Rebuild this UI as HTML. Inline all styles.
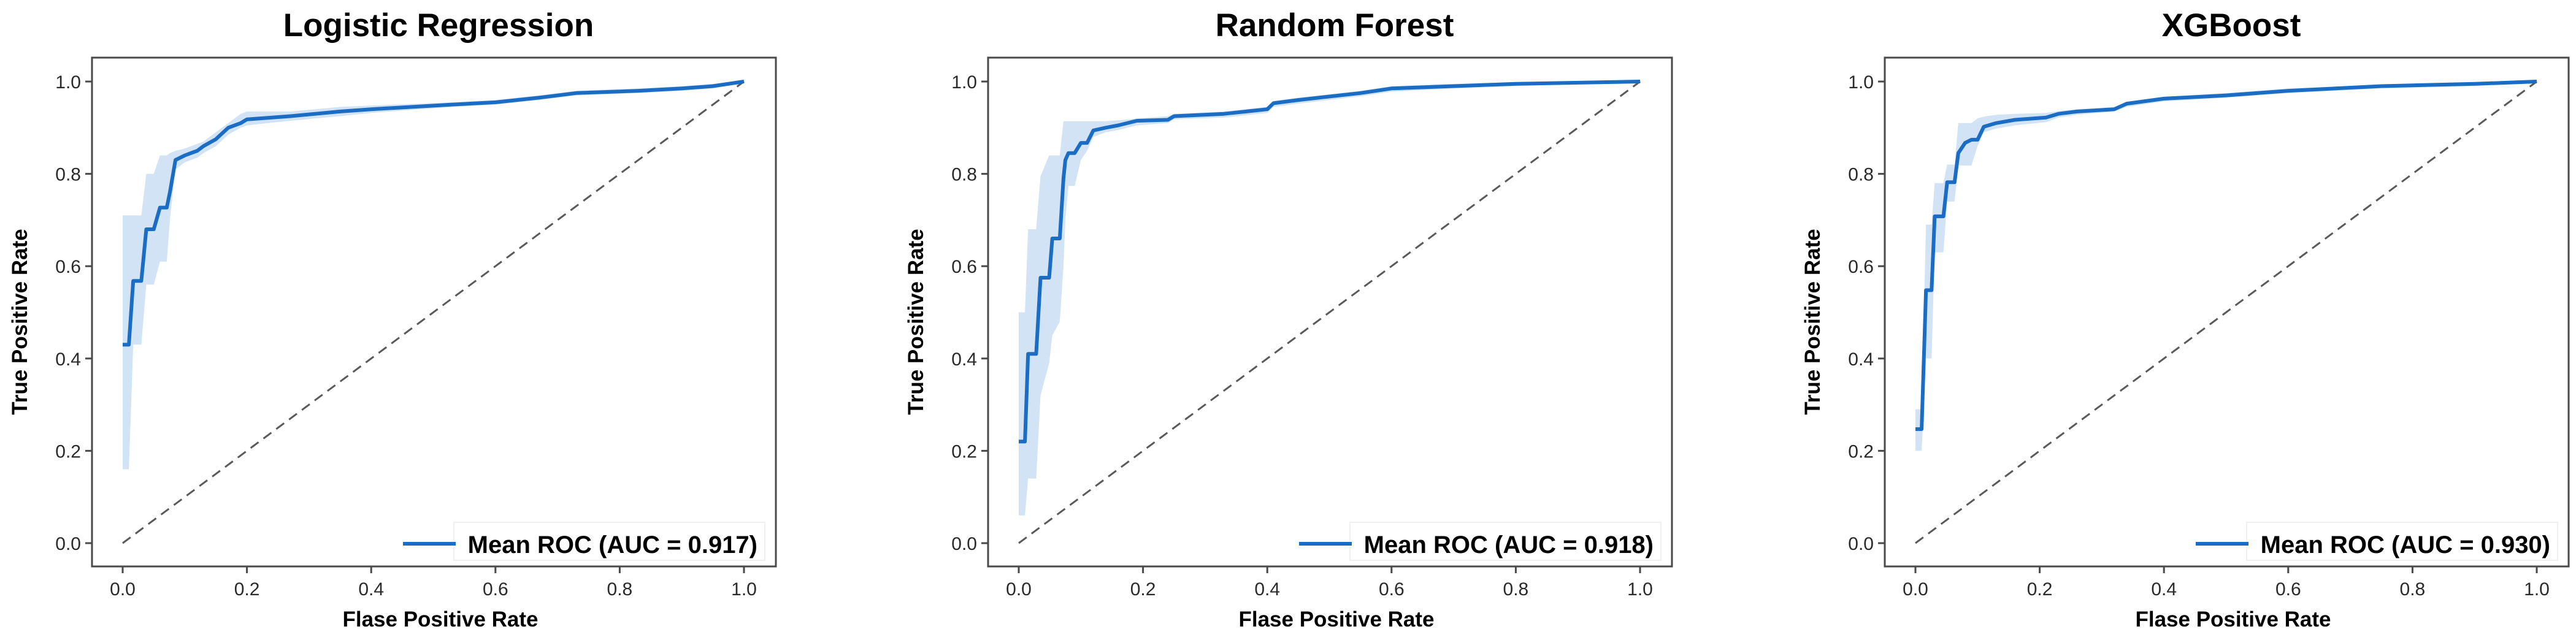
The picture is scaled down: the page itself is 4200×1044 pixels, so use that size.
<!DOCTYPE html>
<html><head><meta charset="utf-8"><style>
html,body{margin:0;padding:0;background:#fff;}
svg{display:block;font-family:"Liberation Sans",Arial,sans-serif;}
</style></head>
<body>
<svg id="fig" width="4200" height="1044" viewBox="0 0 4200 1044" xmlns="http://www.w3.org/2000/svg"></svg>
<script>
// ---- data ----
const titles = ["Logistic Regression", "Random Forest", "XGBoost"];
const aucLabels = ["Mean ROC (AUC = 0.917)", "Mean ROC (AUC = 0.918)", "Mean ROC (AUC = 0.930)"];
const tickValues = [0.0, 0.2, 0.4, 0.6, 0.8, 1.0];
const tickLabels = ["0.0", "0.2", "0.4", "0.6", "0.8", "1.0"];

const lrFpr = [0,0.01,0.017,0.03,0.038,0.05,0.06,0.071,0.076,0.085,0.1,0.11,0.12,0.13,0.15,0.17,0.19,0.2,0.27,0.35,0.4,0.53,0.6,0.67,0.73,0.83,0.9,0.95,1.0];
const lrTpr = [0.43,0.43,0.568,0.568,0.68,0.68,0.727,0.727,0.76,0.83,0.84,0.845,0.85,0.86,0.875,0.90,0.91,0.918,0.925,0.935,0.94,0.95,0.955,0.965,0.975,0.98,0.985,0.99,1.0];
const lrUpper = [0.71,0.71,0.71,0.71,0.80,0.80,0.84,0.84,0.845,0.85,0.855,0.86,0.865,0.87,0.89,0.91,0.93,0.935,0.935,0.945,0.948,0.955,0.96,0.97,0.98,0.985,0.99,0.995,1.0];
const lrLower = [0.16,0.16,0.43,0.43,0.56,0.56,0.61,0.61,0.70,0.81,0.825,0.83,0.835,0.845,0.86,0.885,0.90,0.905,0.915,0.925,0.932,0.945,0.95,0.96,0.97,0.975,0.98,0.985,1.0];

const rfFpr = [0,0.01,0.015,0.028,0.035,0.049,0.054,0.066,0.072,0.075,0.08,0.09,0.1,0.11,0.12,0.14,0.16,0.19,0.24,0.25,0.33,0.4,0.41,0.45,0.55,0.6,0.7,0.8,1.0];
const rfTpr = [0.22,0.22,0.41,0.41,0.575,0.575,0.66,0.66,0.79,0.83,0.845,0.845,0.867,0.867,0.894,0.90,0.905,0.915,0.917,0.925,0.93,0.94,0.953,0.96,0.975,0.985,0.99,0.995,1.0];
const rfUpper = [0.5,0.5,0.68,0.68,0.795,0.84,0.84,0.84,0.914,0.914,0.914,0.914,0.914,0.914,0.914,0.914,0.916,0.92,0.925,0.93,0.935,0.945,0.958,0.965,0.98,0.99,0.995,0.998,1.0];
const rfLower = [0.06,0.06,0.14,0.14,0.32,0.39,0.45,0.48,0.60,0.70,0.774,0.774,0.83,0.85,0.88,0.89,0.895,0.905,0.91,0.918,0.922,0.932,0.945,0.952,0.968,0.978,0.985,0.99,1.0];

const xgFpr = [0,0.01,0.017,0.026,0.031,0.045,0.051,0.063,0.069,0.08,0.09,0.1,0.11,0.13,0.16,0.21,0.23,0.26,0.32,0.34,0.4,0.5,0.6,0.75,0.9,1.0];
const xgTpr = [0.247,0.247,0.548,0.548,0.708,0.708,0.782,0.782,0.845,0.867,0.874,0.874,0.902,0.91,0.917,0.922,0.93,0.935,0.94,0.952,0.963,0.97,0.98,0.99,0.995,1.0];
const xgUpper = [0.29,0.29,0.69,0.69,0.78,0.78,0.82,0.82,0.91,0.91,0.91,0.92,0.924,0.928,0.93,0.932,0.936,0.94,0.945,0.955,0.967,0.975,0.985,0.993,0.997,1.0];
const xgLower = [0.20,0.20,0.40,0.40,0.63,0.63,0.74,0.74,0.818,0.818,0.818,0.86,0.89,0.898,0.905,0.912,0.922,0.928,0.935,0.945,0.957,0.965,0.975,0.985,0.99,1.0];

const fprSets = [lrFpr, rfFpr, xgFpr];
const tprSets = [lrTpr, rfTpr, xgTpr];
const upperSets = [lrUpper, rfUpper, xgUpper];
const lowerSets = [lrLower, rfLower, xgLower];

// ---- layout ----
const NS = "http://www.w3.org/2000/svg";
const svg = document.getElementById("fig");
const panelOffsets = [0, 1461, 2923];
function mk(tag, attrs, parent){
  const e = document.createElementNS(NS, tag);
  for (const k in attrs) e.setAttribute(k, attrs[k]);
  (parent||svg).appendChild(e);
  return e;
}
const slugs = ["logistic-regression","random-forest","xgboost"];

for (let p = 0; p < 3; p++) {
  const off = panelOffsets[p];
  const X0 = 200 + off, XS = 1013;       // x=0 pixel, px per unit
  const Y0 = 886, YS = 753;              // y=0 pixel, px per unit
  const L = 150 + off, R = 1265 + off, T = 94, B = 924;
  const xp = v => X0 + v * XS;
  const yp = v => Y0 - v * YS;

  const g = mk("g", {});
  
  

  // band
  const fpr = fprSets[p], tpr = tprSets[p], up = upperSets[p], lo = lowerSets[p];
  let d = "";
  for (let i = 0; i < fpr.length; i++) d += (i ? "L" : "M") + xp(fpr[i]).toFixed(1) + "," + yp(Math.min(up[i],1)).toFixed(1);
  for (let i = fpr.length - 1; i >= 0; i--) d += "L" + xp(fpr[i]).toFixed(1) + "," + yp(lo[i]).toFixed(1);
  const band = mk("path", {d: d + "Z", fill: "#c9def2", "fill-opacity": "0.85", stroke: "none"}, g);
  
  

  // diagonal
  const diag = mk("line", {x1: xp(0), y1: yp(0), x2: xp(1), y2: yp(1), stroke: "#5a5a5a", "stroke-width": 3, "stroke-dasharray": "16,10"}, g);
  
  

  // mean line
  let md = "";
  for (let i = 0; i < fpr.length; i++) md += (i ? "L" : "M") + xp(fpr[i]).toFixed(1) + "," + yp(tpr[i]).toFixed(1);
  const mean = mk("path", {d: md, fill: "none", stroke: "#1a6cc4", "stroke-width": 6, "stroke-linejoin": "round"}, g);
  
  

  // frame
  const frame = mk("rect", {x: L, y: T, width: R - L, height: B - T, fill: "none", stroke: "#4a4a4a", "stroke-width": 3}, g);
  
  

  // ticks
  for (let i = 0; i < tickValues.length; i++) {
    const v = tickValues[i];
    const tx = mk("line", {x1: xp(v), y1: B, x2: xp(v), y2: B + 11, stroke: "#4a4a4a", "stroke-width": 3}, g);
    
    
    const lx = mk("text", {x: xp(v), y: B + 47, "text-anchor": "middle", "font-size": 30, fill: "#2a2a2a"}, g);
    lx.textContent = tickLabels[i];
    
    
    const ty = mk("line", {x1: L - 11, y1: yp(v), x2: L, y2: yp(v), stroke: "#4a4a4a", "stroke-width": 3}, g);
    
    
    const ly = mk("text", {x: L - 18, y: yp(v) + 11, "text-anchor": "end", "font-size": 30, fill: "#2a2a2a"}, g);
    ly.textContent = tickLabels[i];
    
    
  }

  // title
  const title = mk("text", {x: off + 715, y: 59, "text-anchor": "middle", "font-size": 53, "font-weight": "bold", fill: "#000"}, g);
  title.textContent = titles[p];
  
  

  // axis titles
  const xt = mk("text", {x: off + 718, y: 1022, "text-anchor": "middle", "font-size": 35, "font-weight": "bold", fill: "#000"}, g);
  xt.textContent = "Flase Positive Rate";
  
  
  const yt = mk("text", {x: 0, y: 0, "text-anchor": "middle", "font-size": 35, "font-weight": "bold", fill: "#000", transform: "translate(" + (off + 44) + ",525) rotate(-90)"}, g);
  yt.textContent = "True Positive Rate";
  
  

  // legend
  const lg = mk("g", {}, g);
  
  
  mk("rect", {x: X0 + 540, y: 852, width: R - 18 - (X0 + 540), height: 62, fill: "#fff", "fill-opacity": 0.8, stroke: "#f0f0f0", "stroke-width": 2}, lg);
  mk("line", {x1: X0 + 457, y1: 887, x2: X0 + 543, y2: 887, stroke: "#1a6cc4", "stroke-width": 6}, lg);
  const lt = mk("text", {x: X0 + 1035, y: 902, "text-anchor": "end", "font-size": 40, "font-weight": "bold", fill: "#000"}, lg);
  lt.textContent = aucLabels[p];
}
</script>
</body></html>
